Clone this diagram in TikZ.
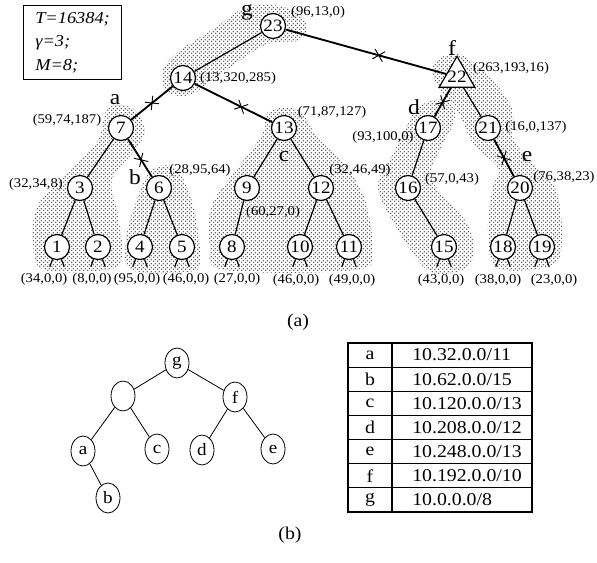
\documentclass[tikz,border=0pt]{standalone}
\usepackage{fontspec}
\setmainfont[FakeStretch=1.1]{Liberation Serif}
\usetikzlibrary{shapes.geometric,shapes.misc,patterns}

% dotted screen for the clusters
\pgfdeclarepatternformonly{halftone}{\pgfpointorigin}{\pgfpoint{2.6pt}{2.6pt}}
  {\pgfpoint{2.6pt}{2.6pt}}{
  \pgfpathcircle{\pgfpoint{0.65pt}{0.65pt}}{0.6pt}
  \pgfpathcircle{\pgfpoint{1.95pt}{1.95pt}}{0.6pt}
  \pgfusepath{fill}
}

\tikzset{
  vertex/.style={circle,draw,fill=white,line width=0.9pt,minimum size=18.75pt,
                 inner sep=0pt,font=\fontsize{13}{13}\selectfont},
  rootnode/.style={regular polygon,regular polygon sides=3,draw,fill=white,
                   line width=0.9pt,minimum size=31pt,inner sep=0pt,
                   label={[font=\fontsize{13}{13}\selectfont,inner sep=0pt]center:#1}},
  treeedge/.style={line width=0.9pt},
  cutedge/.style={line width=1.4pt},
  cutmark/.style={draw,cross out,sloped,minimum size=7pt,inner sep=0pt,line width=0.7pt},
  tuple/.style={font=\fontsize{10}{10}\selectfont,inner sep=0pt},
  letter/.style={font=\fontsize{16}{16}\selectfont,inner sep=0pt},
  halo/.style={pattern=halftone,pattern color=black!85},
  pfxnode/.style={ellipse,draw,line width=0.6pt,minimum width=18pt,minimum height=22.5pt,
                 inner sep=0pt,font=\fontsize{13}{13}\selectfont},
  pfxedge/.style={line width=0.6pt},
  cell/.style={font=\fontsize{13.5}{13.5}\selectfont,inner sep=0pt},
  tablerule/.style={line width=0.8pt},
}

\begin{document}
\begin{tikzpicture}[x=0.75pt,y=-0.75pt]
  \useasboundingbox (0,0) rectangle (597,562);

  % clusters
  \path[halo] plot[smooth cycle,tension=0.6] coordinates {(162,72) (178,52) (215,28) (245,8)
      (280,6) (305,20) (300,40) (265,45) (215,78) (190,95) (168,92)};
  \path[halo] plot[smooth cycle,tension=0.6] coordinates {(108,108) (132,108) (145,130)
      (135,150) (112,180) (118,215) (122,258) (105,270) (45,270) (33,245) (38,205)
      (70,170) (98,140)};
  \path[halo] plot[smooth cycle,tension=0.6] coordinates {(150,172) (175,168) (193,205)
      (200,262) (185,272) (132,270) (126,240) (135,205)};
  \path[halo] plot[smooth cycle,tension=0.6] coordinates {(268,112) (298,110) (318,138)
      (345,165) (365,200) (372,250) (355,270) (225,270) (210,245) (212,205) (240,165)
      (262,135)};
  \path[halo] plot[smooth cycle,tension=0.6] coordinates {(418,108) (447,100) (455,118)
      (440,150) (432,180) (468,225) (472,260) (452,273) (425,268) (392,220) (378,185)
      (395,150)};
  \path[halo] plot[smooth cycle,tension=0.6] coordinates {(440,58) (462,55) (492,80)
      (512,108) (514,140) (535,165) (556,190) (562,238) (552,265) (498,268) (488,232)
      (492,190) (498,168) (474,145) (458,112) (442,92) (432,72)};

  % parameters
  \node[draw,line width=0.8pt,minimum width=73.5pt,minimum height=55.5pt,align=left,
        anchor=north west,font=\itshape\fontsize{12.5}{17.6}\selectfont] (params)
        at (23,5) {T=16384;\\ γ=3;\\ M=8;};

  % trie nodes
  \node[vertex] (n23) at (273,26) {23};
  \node[vertex] (n14) at (183,78) {14};
  \node[rootnode=22] (n22) at (457,77) {};
  \node[vertex] (n7) at (121,128) {7};
  \node[vertex] (n13) at (284,128) {13};
  \node[vertex] (n17) at (428,128) {17};
  \node[vertex] (n21) at (488,128) {21};
  \node[vertex] (n3) at (80,188) {3};
  \node[vertex] (n6) at (159,188) {6};
  \node[vertex] (n9) at (247,188) {9};
  \node[vertex] (n12) at (321,188) {12};
  \node[vertex] (n16) at (408,188) {16};
  \node[vertex] (n20) at (520,188) {20};
  \node[vertex] (n1) at (57,247) {1};
  \node[vertex] (n2) at (98,247) {2};
  \node[vertex] (n4) at (140,247) {4};
  \node[vertex] (n5) at (182,247) {5};
  \node[vertex] (n8) at (232,247) {8};
  \node[vertex] (n10) at (300,247) {10};
  \node[vertex] (n11) at (349,247) {11};
  \node[vertex] (n15) at (444,247) {15};
  \node[vertex] (n18) at (503,247) {18};
  \node[vertex] (n19) at (542,247) {19};

  \draw[treeedge] (n23) -- (n14);
  \draw[cutedge] (n23) -- node[cutmark,pos=.58] {} (n22);
  \draw[cutedge] (n14) -- node[cutmark,pos=.5] {} (n7);
  \draw[cutedge] (n14) -- node[cutmark,pos=.6] {} (n13);
  \draw[treeedge] (n7) -- (n3);
  \draw[cutedge] (n7) -- node[cutmark,pos=.55] {} (n6);
  \draw[treeedge] (n13) -- (n9);
  \draw[treeedge] (n13) -- (n12);
  \draw[cutedge] (n22) -- node[cutmark,pos=.5] {} (n17);
  \draw[treeedge] (n22) -- (n21);
  \draw[treeedge] (n3) -- (n1);
  \draw[treeedge] (n3) -- (n2);
  \draw[treeedge] (n6) -- (n4);
  \draw[treeedge] (n6) -- (n5);
  \draw[treeedge] (n9) -- (n8);
  \draw[treeedge] (n12) -- (n10);
  \draw[treeedge] (n12) -- (n11);
  \draw[treeedge] (n17) -- (n16);
  \draw[treeedge] (n16) -- (n15);
  \draw[cutedge] (n21) -- node[cutmark,pos=.5] {} (n20);
  \draw[treeedge] (n20) -- (n18);
  \draw[treeedge] (n20) -- (n19);

  \foreach \leaf in {1,2,4,5,8,10,11,15,18,19}
    \draw[treeedge] (n\leaf.-110) -- ++(-110:6pt) (n\leaf.-70) -- ++(-70:6pt);

  % prefix names
  \node[letter] (tg) at (247,12) {g};
  \node[letter] (ta) at (115,100) {a};
  \node[letter] (tb) at (135,177) {b};
  \node[letter] (tc) at (284,157) {c};
  \node[letter] (td) at (414,107) {d};
  \node[letter] (te) at (527,157) {e};
  \node[letter] (tf) at (452,48) {f};

  % counters
  \node[tuple] (c23) at (318,12) {(96,13,0)};
  \node[tuple] (c14) at (238,78) {(13,320,285)};
  \node[tuple] (c22) at (511,68) {(263,193,16)};
  \node[tuple] (c7) at (67,120) {(59,74,187)};
  \node[tuple] (c13) at (332,112) {(71,87,127)};
  \node[tuple] (c17) at (383,137) {(93,100,0)};
  \node[tuple] (c21) at (536,127) {(16,0,137)};
  \node[tuple] (c3) at (36,184) {(32,34,8)};
  \node[tuple] (c6) at (200,170) {(28,95,64)};
  \node[tuple] (c9) at (273,212) {(60,27,0)};
  \node[tuple] (c12) at (360,170) {(32,46,49)};
  \node[tuple] (c16) at (452,179) {(57,0,43)};
  \node[tuple] (c20) at (564,177) {(76,38,23)};
  \node[tuple] (c1) at (44,279) {(34,0,0)};
  \node[tuple] (c2) at (92,279) {(8,0,0)};
  \node[tuple] (c4) at (137,279) {(95,0,0)};
  \node[tuple] (c5) at (186,279) {(46,0,0)};
  \node[tuple] (c8) at (237,279) {(27,0,0)};
  \node[tuple] (c10) at (296,280) {(46,0,0)};
  \node[tuple] (c11) at (352,280) {(49,0,0)};
  \node[tuple] (c15) at (441,280) {(43,0,0)};
  \node[tuple] (c18) at (498,280) {(38,0,0)};
  \node[tuple] (c19) at (554,280) {(23,0,0)};

  \node[cell] (capa) at (298,322) {(a)};

  % prefix tree
  \node[pfxnode] (pg) at (177,363) {g};
  \node[pfxnode] (pv) at (123,396) {};
  \node[pfxnode] (pf) at (235,397) {f};
  \node[pfxnode] (pa) at (83,451) {a};
  \node[pfxnode] (pc) at (157,449) {c};
  \node[pfxnode] (pd) at (202,450) {d};
  \node[pfxnode] (pe) at (273,449) {e};
  \node[pfxnode] (pb) at (108,498) {b};

  \draw[pfxedge] (pg) -- (pv);
  \draw[pfxedge] (pg) -- (pf);
  \draw[pfxedge] (pv) -- (pa);
  \draw[pfxedge] (pv) -- (pc);
  \draw[pfxedge] (pf) -- (pd);
  \draw[pfxedge] (pf) -- (pe);
  \draw[pfxedge] (pa) -- (pb);

  % prefix table
  \draw[tablerule] (348,343) rectangle (532,512);
  \draw[tablerule] (392,343) -- (392,512);
  \foreach \r in {1,...,6}
    \draw[tablerule] (348,{343+24.14*\r}) -- (532,{343+24.14*\r});
  \foreach \k/\p [count=\i] in {a/{10.32.0.0/11},b/{10.62.0.0/15},c/{10.120.0.0/13},
      d/{10.208.0.0/12},e/{10.248.0.0/13},f/{10.192.0.0/10},g/{10.0.0.0/8}} {
    \node[cell] (key\k) at (370,{343+24.14*(\i-0.5)}) {\k};
    \node[cell,anchor=west] (net\k) at (412,{343+24.14*(\i-0.5)}) {\p};
  }

  \node[cell] (capb) at (290,535) {(b)};
\end{tikzpicture}
\end{document}
